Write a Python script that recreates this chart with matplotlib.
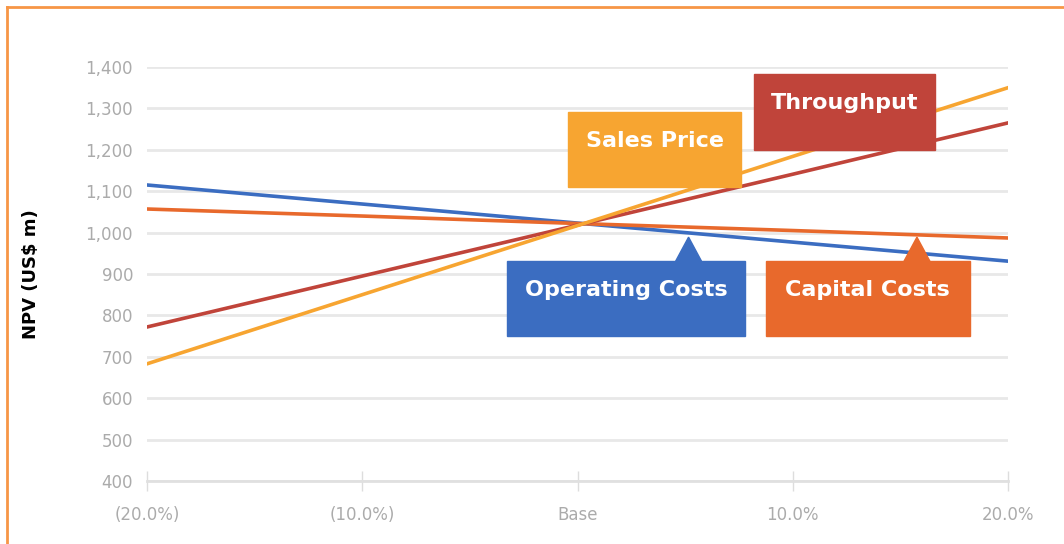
import matplotlib.pyplot as plt
from matplotlib.patches import Rectangle, Polygon
from matplotlib.lines import Line2D

# sensitivity steps (%) and NPV values (US$ m)
steps = [-20, -10, 0, 10, 20]
tick_labels = ['(20.0%)', '(10.0%)', 'Base', '10.0%', '20.0%']
sales_price = [683, 850, 1017, 1184, 1350]
throughput = [772, 895, 1018, 1141, 1265]
operating_costs = [1115, 1069, 1023, 977, 931]
capital_costs = [1057, 1040, 1022, 1005, 987]

c_sales = '#F7A531'
c_thru = '#C0443A'
c_opex = '#3B6DC1'
c_capex = '#E8692C'

fig = plt.figure(figsize=(10.64, 5.44), dpi=100)
ax = fig.add_axes([147/1064, 1-481/544, (1008-147)/1064, (481-67)/544])

# gridlines
ax.set_ylim(400, 1400)
ax.set_xlim(-20, 20)
ax.set_yticks(range(400, 1401, 100))
ax.set_yticklabels([f'{v:,}' for v in range(400, 1401, 100)])
ax.grid(axis='y', color='#E8E8E8', lw=2)
ax.set_axisbelow(True)

lw = 2.6
ax.plot(steps, operating_costs, color=c_opex, lw=lw, zorder=3)
ax.plot(steps, capital_costs, color=c_capex, lw=lw, zorder=3)
ax.plot(steps, throughput, color=c_thru, lw=lw, zorder=3)
ax.plot(steps, sales_price, color=c_sales, lw=lw, zorder=3)

ax.set_xticks(steps)
ax.set_xticklabels(tick_labels)
for s in ['top', 'right', 'left']:
    ax.spines[s].set_visible(False)
ax.spines['bottom'].set_color('#E0E0E0')
ax.spines['bottom'].set_linewidth(2)
ax.tick_params(axis='x', direction='inout', length=14, width=1, color='#DDDDDD',
               labelcolor='#ABABAB', labelsize=12, pad=11)
ax.tick_params(axis='y', length=0, labelcolor='#ABABAB', labelsize=12, pad=10)

ax.set_ylabel('NPV (US$ m)', fontsize=13, fontweight='bold')
ax.yaxis.set_label_coords(-0.124, 0.5)

# callout boxes: label, x0, x1, y0, y1, colour, pointer tip (or None)
callouts = [
    ('Sales Price', -0.42, 7.58, 1110, 1291, c_sales, None),
    ('Throughput', 8.19, 16.6, 1200, 1383, c_thru, None),
    ('Operating Costs', -3.26, 7.77, 750, 931, c_opex, (5.16, 989)),
    ('Capital Costs', 8.74, 18.23, 750, 931, c_capex, (15.77, 989)),
]
for name, x0, x1, y0, y1, col, tip in callouts:
    ax.add_patch(Rectangle((x0, y0), x1 - x0, y1 - y0, color=col, zorder=5))
    if tip:
        ax.add_patch(Polygon([(tip[0] - 0.6, y1), (tip[0] + 0.6, y1), tip],
                             closed=True, color=col, zorder=5))
    ax.text((x0 + x1) / 2, y1 - (y1 - y0) * 0.38, name, color='white',
            fontsize=16, fontweight='bold', ha='center', va='center', zorder=6)

# orange frame along top and left
fig.add_artist(Line2D([6.5/1064, 6.5/1064], [0, 1-6.5/544], color='#F79646', lw=2))
fig.add_artist(Line2D([6.5/1064, 1], [1-6.5/544, 1-6.5/544], color='#F79646', lw=2))

fig.savefig('out.png', dpi=100)
